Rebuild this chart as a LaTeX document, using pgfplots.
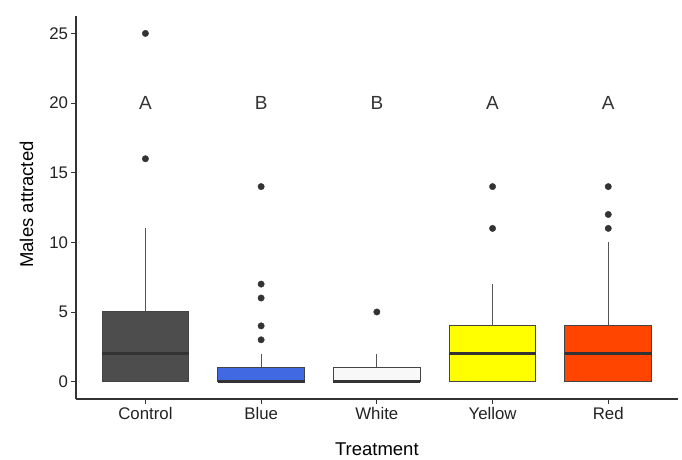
\documentclass[border=0pt]{standalone}
\usepackage{fontspec}
\setmainfont{Liberation Sans}
\usepackage{pgfplots}
\pgfplotsset{compat=1.18}
\usepgfplotslibrary{statistics}

\definecolor{ink}{HTML}{333333}
\definecolor{lbl}{HTML}{222222}
\definecolor{edge}{HTML}{444444}
\definecolor{whisk}{HTML}{555555}
\definecolor{ctrl}{HTML}{4D4D4D}
\definecolor{blu}{HTML}{4169E1}
\definecolor{wht}{HTML}{F8F8F8}
\definecolor{yel}{HTML}{FFFF00}
\definecolor{rd}{HTML}{FF4500}

\pgfplotsset{
  boxplot/draw direction=y,
  bx/.style={mark=*, mark size=3.2pt, mark options={draw=ink, fill=ink},
    boxplot/every box/.style={draw=edge, line width=1pt, fill=#1},
    boxplot/every whisker/.style={draw=whisk, line width=1.1pt},
    boxplot/every median/.style={draw=ink, line width=2.8pt}},
}
\tikzset{letter/.style={font=\fontsize{19}{22}\selectfont, text=ink}}

\begin{document}
\begin{tikzpicture}
\begin{axis}[
  scale only axis, width=601.7pt, height=383pt,
  xmin=0.4, xmax=5.6, ymin=-1.25, ymax=26.25,
  axis x line*=bottom, axis y line*=left,
  axis line style={ink, line width=1.1pt, -},
  xtick={1,2,3,4,5}, xticklabels={Control,Blue,White,Yellow,Red},
  ytick={0,5,10,15,20,25},
  tick align=outside, major tick length=4.5pt,
  tick style={ink, line width=0.8pt},
  ticklabel style={font=\fontsize{16.8}{19}\selectfont, text=lbl},
  /pgf/number format/assume math mode=true,
  xlabel={Treatment}, ylabel={Males attracted},
  label style={font=\fontsize{18.5}{21}\selectfont, text=black},
  xlabel style={at={([yshift=-50pt]axis description cs:0.5,0)}, anchor=center},
  ylabel style={at={([xshift=-49.5pt,yshift=3pt]axis description cs:0,0.5)}, anchor=center},
  clip=false,
]
% Control
\addplot[bx=ctrl, boxplot prepared={draw position=1, box extend=0.75, whisker extend=0,
  lower whisker=0, lower quartile=0, median=2, upper quartile=5, upper whisker=11}]
  coordinates {(0,16) (0,25)};
% Blue
\addplot[bx=blu, boxplot prepared={draw position=2, box extend=0.75, whisker extend=0,
  lower whisker=0, lower quartile=0, median=0, upper quartile=1, upper whisker=2}]
  coordinates {(0,3) (0,4) (0,6) (0,7) (0,14)};
% White
\addplot[bx=wht, boxplot prepared={draw position=3, box extend=0.75, whisker extend=0,
  lower whisker=0, lower quartile=0, median=0, upper quartile=1, upper whisker=2}]
  coordinates {(0,5)};
% Yellow
\addplot[bx=yel, boxplot prepared={draw position=4, box extend=0.75, whisker extend=0,
  lower whisker=0, lower quartile=0, median=2, upper quartile=4, upper whisker=7}]
  coordinates {(0,11) (0,14)};
% Red
\addplot[bx=rd, boxplot prepared={draw position=5, box extend=0.75, whisker extend=0,
  lower whisker=0, lower quartile=0, median=2, upper quartile=4, upper whisker=10}]
  coordinates {(0,11) (0,12) (0,14)};

% significance letters
\node[letter] at (axis cs:1,20) {A};
\node[letter] at (axis cs:2,20) {B};
\node[letter] at (axis cs:3,20) {B};
\node[letter] at (axis cs:4,20) {A};
\node[letter] at (axis cs:5,20) {A};
\end{axis}
\pgfresetboundingbox
\path ([shift={(-76pt,-61pt)}]current axis.south west) rectangle ([shift={(4.3pt,16pt)}]current axis.north east);
\end{tikzpicture}
\end{document}
